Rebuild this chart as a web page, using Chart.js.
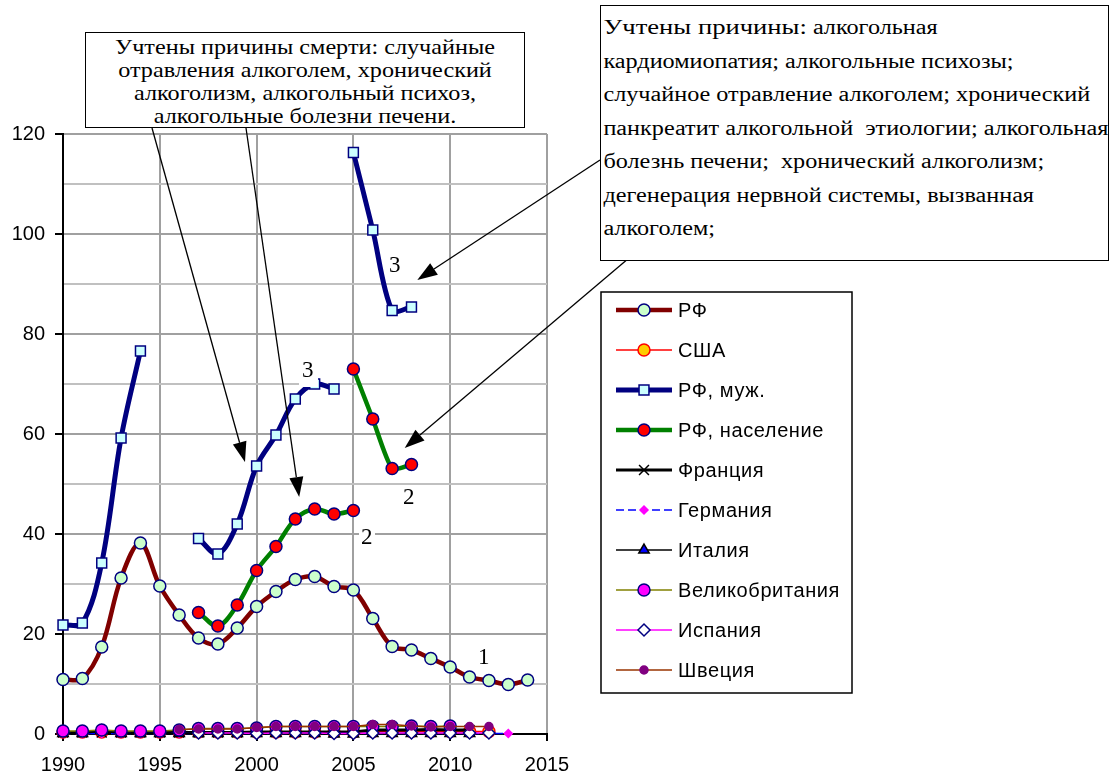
<!DOCTYPE html>
<html>
<head>
<meta charset="utf-8">
<script src="https://cdn.jsdelivr.net/npm/chart.js@4.4.0/dist/chart.umd.min.js"></script>
<style>
  body { margin: 0; background: #fff; width: 1111px; height: 776px; overflow: hidden; position: relative; font-family: "Liberation Serif", "Times New Roman", serif; }
  #wrap { position: absolute; left: 0; top: 0; width: 1111px; height: 776px; }
  .box { position: absolute; background: #fff; border: 1.5px solid #000; box-sizing: border-box; color: #000; overflow: hidden; }
  #note1 { left: 85px; top: 32px; width: 440px; height: 96px; }
  #note1 .t { white-space: nowrap; text-align: center; font-size: 22px; line-height: 23px; padding-top: 2px; transform: scaleX(1.1); transform-origin: center top; }
  #note2 { left: 600px; top: 5px; width: 509px; height: 256px; }
  #note2 .t { white-space: nowrap; font-size: 20px; line-height: 33.5px; padding-left: 2px; padding-top: 4px; transform: scaleX(1.21); transform-origin: left top; }
  #note2 .head { font-size: 22px; }
  .num { position: absolute; font-size: 23px; line-height: 23px; background: #fff; padding: 0 2px; }
</style>
</head>
<body>
<div id="wrap"><canvas id="chart" width="1111" height="776"></canvas></div>

<div class="box" id="note1"><div class="t">Учтены причины смерти: случайные<br>отравления алкоголем, хронический<br>алкоголизм, алкогольный психоз,<br>алкогольные болезни печени.</div></div>
<div class="box" id="note2"><div class="t"><span class="head">Учтены причины:</span> алкогольная<br>кардиомиопатия; алкогольные психозы;<br>случайное отравление алкоголем; хронический<br>панкреатит алкогольной&nbsp; этиологии; алкогольная<br>болезнь печени;&nbsp; хронический алкоголизм;<br>дегенерация нервной системы, вызванная<br>алкоголем;</div></div>

<div class="num" style="left:387px;top:253px;background:transparent">3</div>
<div class="num" style="left:299px;top:358px;padding:0 4px 6px 3px">3</div>
<div class="num" style="left:359px;top:525px">2</div>
<div class="num" style="left:401px;top:485px">2</div>
<div class="num" style="left:476px;top:645px;background:transparent">1</div>

<script>
// годы
const years = [1990,1991,1992,1993,1994,1995,1996,1997,1998,1999,2000,2001,2002,2003,2004,2005,2006,2007,2008,2009,2010,2011,2012,2013,2014];

// РФ (1)
const rf =       [10.9,11.1,17.4,31.2,38.2,29.6,23.8,19.2,18.0,21.2,25.5,28.5,30.9,31.5,29.5,28.8,23.1,17.5,16.8,15.1,13.4,11.4,10.7,9.9,10.8];
// РФ, муж. (3) - две серии с разными причинами
const rfMale =   [21.8,22.2,34.2,59.2,76.6,null,null,39.1,36.0,42.0,53.6,59.8,67.0,70.0,69.0,null,null,null,null,null,null,null,null,null,null];
const rfMale2 =  [null,null,null,null,null,null,null,null,null,null,null,null,null,null,null,116.3,100.8,84.7,85.4,null,null,null,null,null,null];
// РФ, население (2)
const rfPop =    [null,null,null,null,null,null,null,24.3,21.6,25.8,32.7,37.5,43.0,45.0,44.0,44.7,null,null,null,null,null,null,null,null,null];
const rfPop2 =   [null,null,null,null,null,null,null,null,null,null,null,null,null,null,null,73.0,63.0,53.1,53.9,null,null,null,null,null,null];

// другие страны
const usa =      [0.4,0.4,0.4,0.4,0.4,0.4,0.4,0.4,0.4,0.4,0.4,0.4,0.4,0.4,0.4,0.4,0.5,0.5,0.5,0.5,0.5,0.5,0.5,null,null];
const france =   [0.3,0.3,0.3,0.3,0.3,0.3,0.3,0.3,0.3,0.3,0.4,0.4,0.4,0.4,0.4,0.4,0.8,0.8,0.8,0.9,0.8,0.8,null,null,null];
const germany =  [0.1,0.1,0.1,0.1,0.1,0.1,0.1,0.1,0.1,0.1,0.1,0.1,0.1,0.1,0.1,0.1,0.1,0.1,0.1,0.1,0.1,0.1,0.1,0.1,null];
const italy =    [0.1,0.1,0.6,0.1,0.1,0.1,0.1,0.1,0.1,0.1,0.1,0.1,0.1,0.1,0.0,0.0,0.1,0.1,0.1,0.1,0.1,0.1,null,null,null];
const uk =       [0.6,0.6,0.8,0.6,0.6,0.6,0.8,1.1,1.1,1.1,1.2,1.5,1.5,1.5,1.5,1.5,1.5,1.5,1.6,1.5,1.6,null,null,null,null];
const spain =    [null,null,null,null,null,null,null,0.2,0.2,0.2,0.1,0.2,0.2,0.2,0.1,0.1,0.2,0.2,0.2,0.2,0.2,0.2,0.2,null,null];
const sweden =   [null,null,null,null,null,null,0.9,1.0,1.0,1.0,1.3,1.5,1.5,1.5,1.5,1.5,1.9,1.9,1.6,1.4,1.5,1.5,1.5,null,null];

function pts(arr) {
    return years.map((y, i) => ({ x: y, y: arr[i] }));
}

function serie(label, arr, o) {
    return Object.assign({
        label: label,
        data: pts(arr),
        fill: false,
        spanGaps: false,
        clip: false,
        tension: 0,
        borderWidth: 1.5,
        pointBorderWidth: 1.5,
        pointRadius: 5
    }, o);
}

const datasets = [
    serie('Швеция', sweden, { borderColor: '#993300', pointStyle: 'circle', pointRadius: 4, pointBackgroundColor: '#800080', pointBorderColor: '#800080' }),
    serie('Испания', spain, { borderColor: '#ff00ff', pointStyle: 'rectRot', pointRadius: 6, pointBackgroundColor: '#ffffff', pointBorderColor: '#000080' }),
    serie('Великобритания', uk, { borderColor: '#808000', pointStyle: 'circle', pointRadius: 6, pointBackgroundColor: '#ff00ff', pointBorderColor: '#000080' }),
    serie('Италия', italy, { borderColor: '#000000', pointStyle: 'triangle', pointRadius: 6, pointBackgroundColor: '#0000ff', pointBorderColor: '#000000' }),
    serie('Германия', germany, { borderColor: '#0000ff', borderDash: [8, 4], pointStyle: 'rectRot', pointRadius: 4, pointBackgroundColor: '#ff00ff', pointBorderColor: '#ff00ff' }),
    serie('Франция', france, { borderColor: '#000000', borderWidth: 3, pointStyle: 'crossRot', pointRadius: 7, pointBackgroundColor: '#000000', pointBorderColor: '#000000' }),
    serie('США', usa, { borderColor: '#ff0000', pointStyle: 'circle', pointRadius: 6, pointBackgroundColor: '#ffcc00', pointBorderColor: '#ff0000' }),
    serie('РФ', rf, { borderColor: '#800000', borderWidth: 4.5, tension: 0.35, pointStyle: 'circle', pointRadius: 6, pointBackgroundColor: '#ccffcc', pointBorderColor: '#000080' }),
    serie('РФ, население', rfPop, { borderColor: '#008000', borderWidth: 4.5, tension: 0.35, pointStyle: 'circle', pointRadius: 6, pointBackgroundColor: '#ff0000', pointBorderColor: '#000080' }),
    serie('РФ, население', rfPop2, { inLegend: false, borderColor: '#008000', borderWidth: 4.5, tension: 0.2, pointStyle: 'circle', pointRadius: 6, pointBackgroundColor: '#ff0000', pointBorderColor: '#000080' }),
    serie('РФ, муж.', rfMale, { borderColor: '#000080', borderWidth: 5, tension: 0.35, pointStyle: 'rect', pointRadius: 7, pointBackgroundColor: '#ccffff', pointBorderColor: '#000080' }),
    serie('РФ, муж.', rfMale2, { inLegend: false, borderColor: '#000080', borderWidth: 5, tension: 0.3, pointStyle: 'rect', pointRadius: 7, pointBackgroundColor: '#ccffff', pointBorderColor: '#000080' })
];

// порядок в легенде
const legendOrder = ['РФ', 'США', 'РФ, муж.', 'РФ, население', 'Франция', 'Германия', 'Италия', 'Великобритания', 'Испания', 'Швеция'];

// легенда в рамке справа
const legendBox = {
    id: 'legendBox',
    afterDraw(chart) {
        const ctx = chart.ctx;
        ctx.save();
        ctx.fillStyle = '#fff';
        ctx.fillRect(601, 292, 251, 401);
        ctx.strokeStyle = '#000';
        ctx.lineWidth = 1.5;
        ctx.strokeRect(601, 292, 251, 401);
        legendOrder.forEach((name, i) => {
            const ds = chart.data.datasets.find(d => d.label === name && d.inLegend !== false);
            const y = 310 + i * 40;
            ctx.strokeStyle = ds.borderColor;
            ctx.lineWidth = ds.borderWidth;
            ctx.setLineDash(ds.borderDash || []);
            ctx.beginPath();
            ctx.moveTo(616, y);
            ctx.lineTo(672, y);
            ctx.stroke();
            ctx.setLineDash([]);
            ctx.fillStyle = ds.pointBackgroundColor;
            ctx.strokeStyle = ds.pointBorderColor;
            ctx.lineWidth = ds.pointBorderWidth;
            Chart.helpers.drawPoint(ctx, { pointStyle: ds.pointStyle, radius: ds.pointRadius, rotation: 0, borderWidth: ds.pointBorderWidth }, 644, y);
            ctx.fillStyle = '#000';
            ctx.font = '20px "Liberation Sans", Arial, sans-serif';
            ctx.textBaseline = 'middle';
            ctx.letterSpacing = '0.6px';
            ctx.fillText(name, 678, y + 1);
        });
        ctx.restore();
    }
};

// стрелки от подписей
const arrows = {
    id: 'arrows',
    afterDraw(chart) {
        const ctx = chart.ctx;
        const xs = chart.scales.x, ys = chart.scales.y;
        const list = [
            [152, 128, 1999.4, 54.4],
            [246, 128, 2002.2, 47.4],
            [600, 160, 2008.3, 90.8],
            [629, 258, 2007.65, 57.2]
        ];
        ctx.save();
        ctx.strokeStyle = '#000';
        ctx.fillStyle = '#000';
        ctx.lineWidth = 1.3;
        list.forEach(a => {
            const x0 = a[0], y0 = a[1];
            const x1 = xs.getPixelForValue(a[2]), y1 = ys.getPixelForValue(a[3]);
            const ang = Math.atan2(y1 - y0, x1 - x0);
            const len = 20, w = 7;
            const bx = x1 - len * Math.cos(ang), by = y1 - len * Math.sin(ang);
            ctx.beginPath();
            ctx.moveTo(x0, y0);
            ctx.lineTo(bx, by);
            ctx.stroke();
            ctx.beginPath();
            ctx.moveTo(x1, y1);
            ctx.lineTo(bx + w * Math.sin(ang), by - w * Math.cos(ang));
            ctx.lineTo(bx - w * Math.sin(ang), by + w * Math.cos(ang));
            ctx.closePath();
            ctx.fill();
        });
        ctx.restore();
    }
};

Chart.defaults.font.family = '"Liberation Sans", Arial, sans-serif';
Chart.defaults.font.size = 20;
Chart.defaults.color = '#000';

new Chart(document.getElementById('chart').getContext('2d'), {
    type: 'line',
    data: { datasets: datasets },
    options: {
        responsive: false,
        animation: false,
        layout: { padding: { left: 0, top: 134, right: 564, bottom: 0 } },
        plugins: {
            legend: { display: false },
            tooltip: { enabled: false }
        },
        scales: {
            x: {
                type: 'linear',
                min: 1990,
                max: 2015,
                afterFit: s => { s.height = 42; },
                ticks: { stepSize: 5, padding: 12, maxRotation: 0, callback: v => String(v) },
                grid: {
                    color: c => c.tick && c.tick.value === 1990 ? 'rgba(0,0,0,0)' : '#a0a0a0',
                    lineWidth: 2,
                    tickLength: 7,
                    tickColor: '#000'
                },
                border: { color: '#000', width: 2 }
            },
            y: {
                min: 0,
                max: 120,
                afterFit: s => { s.width = 63; },
                ticks: { stepSize: 10, padding: 10, autoSkip: false, callback: v => (v % 20 === 0 ? v : '') },
                grid: {
                    color: c => c.tick && c.tick.value % 20 === 0 ? '#a0a0a0' : '#c0c0c0',
                    lineWidth: 2,
                    tickLength: 8,
                    tickColor: c => c.tick && c.tick.value % 20 === 0 ? '#000' : 'rgba(0,0,0,0)'
                },
                border: { color: '#000', width: 2 }
            }
        }
    },
    plugins: [arrows, legendBox]
});
</script>
</body>
</html>
